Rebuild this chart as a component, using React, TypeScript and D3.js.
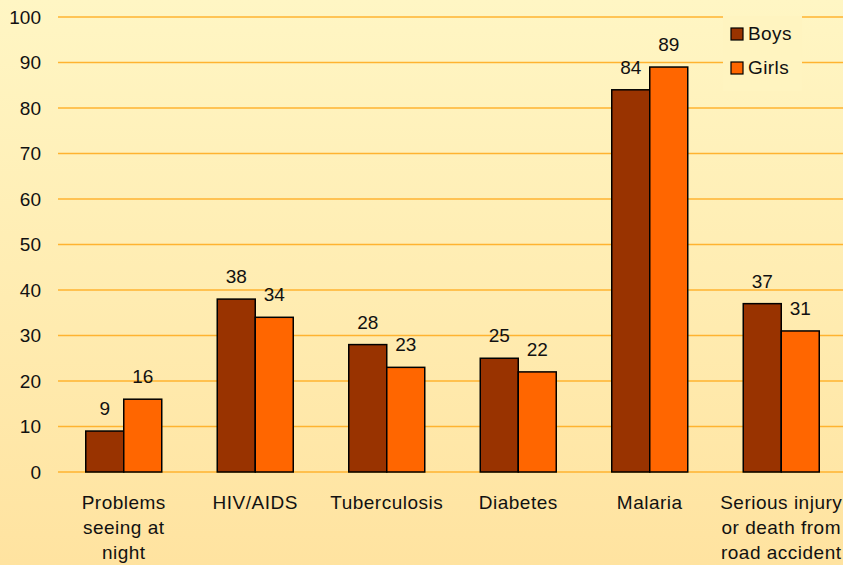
import React from 'react';
import * as d3 from 'd3';

const categories = [
  ['Problems', 'seeing at', 'night'],
  ['HIV/AIDS'],
  ['Tuberculosis'],
  ['Diabetes'],
  ['Malaria'],
  ['Serious injury', 'or death from', 'road accident'],
];
const boys = [9, 38, 28, 25, 84, 37];
const girls = [16, 34, 23, 22, 89, 31];
const yTicks = [0, 10, 20, 30, 40, 50, 60, 70, 80, 90, 100];
const seriesNames = ['Boys', 'Girls'];
const seriesColors = ['#993300', '#FF6600'];

const W = 843;
const H = 565;
const FONT = '"Liberation Sans", Arial, sans-serif';
const FS = 19;

export default function App() {
  const x = d3.scaleBand<number>()
    .domain(d3.range(categories.length))
    .range([58, 847]);
  const y = d3.scaleLinear().domain([0, 100]).range([472, 17]);
  const barW = 38;

  return (
    <svg width={W} height={H} style={{ position: 'absolute', left: 0, top: 0 }} fontFamily={FONT}>
      <defs>
        <linearGradient id="bg" x1="0" y1="0" x2="0" y2="1">
          <stop offset="0%" stopColor="#FFF6C4" />
          <stop offset="100%" stopColor="#FFE3A0" />
        </linearGradient>
      </defs>
      <rect width={W} height={H} fill="url(#bg)" />

      {/* gridlines + y ticks */}
      {yTicks.map(t => (
        <g key={t}>
          <line x1={58} x2={W} y1={y(t)} y2={y(t)} stroke="#FFB330" strokeWidth={1.3} />
          <text x={41} y={y(t)} dy="0.35em" textAnchor="end" fontSize={FS} fill="#111">{t}</text>
        </g>
      ))}

      {/* bars */}
      {categories.map((c, i) => {
        const cx = x(i)! + x.bandwidth() / 2;
        return (
          <g key={i}>
            {[boys[i], girls[i]].map((v, j) => {
              const bx = cx - barW + j * barW;
              return (
                <g key={j}>
                  <rect x={bx} y={y(v)} width={barW} height={y(0) - y(v)}
                    fill={seriesColors[j]} stroke="#000" strokeWidth={1.5} />
                  <text x={bx + barW / 2} y={y(v) - 16} textAnchor="middle" fontSize={FS} fill="#111">{v}</text>
                </g>
              );
            })}
            <text x={cx} y={509} textAnchor="middle" fontSize={FS} letterSpacing={0.5} fill="#111">
              {c.map((l, k) => (
                <tspan key={k} x={cx} dy={k === 0 ? 0 : 25}>{l}</tspan>
              ))}
            </text>
          </g>
        );
      })}

      {/* legend */}
      <rect x={723} y={16} width={79} height={75} fill="#FFF4C0" />
      {seriesNames.map((n, i) => (
        <g key={n}>
          <rect x={731} y={28 + i * 34} width={12} height={12} fill={seriesColors[i]} stroke="#000" strokeWidth={1.2} />
          <text x={748} y={40 + i * 34} fontSize={FS} letterSpacing={0.4} fill="#111">{n}</text>
        </g>
      ))}
    </svg>
  );
}
